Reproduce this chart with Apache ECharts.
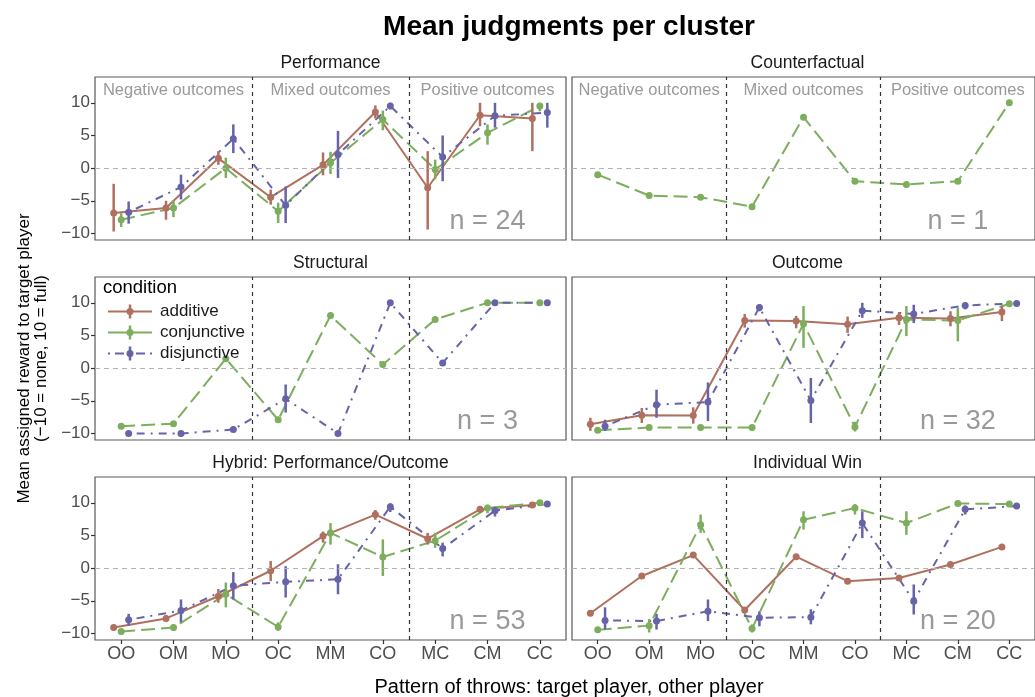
<!DOCTYPE html>
<html>
<head>
<meta charset="utf-8">
<script src="https://cdn.jsdelivr.net/npm/echarts@6/dist/echarts.min.js"></script>
<style>
  html, body { margin: 0; padding: 0; background: #ffffff; }
  #chart { width: 1035px; height: 697px; }
</style>
</head>
<body>
<div id="chart"></div>
<script>
// ---- categories, labels and per-panel values -------------------------------
const categories = ['OO', 'OM', 'MO', 'OC', 'MM', 'CO', 'MC', 'CM', 'CC'];
const conditions = ['additive', 'conjunctive', 'disjunctive'];
const panelTitles = ['Performance', 'Counterfactual', 'Structural', 'Outcome',
                     'Hybrid: Performance/Outcome', 'Individual Win'];
const panelN = [24, 1, 3, 32, 53, 20];
const outcomeGroups = ['Negative outcomes', 'Mixed outcomes', 'Positive outcomes'];
const yTicks = [-10, -5, 0, 5, 10];

// Performance
const perfAddMean  = [-6.85, -6.1, 1.5, -4.45, 0.5, 8.6, -3.0, 8.1, 7.6];
const perfAddLo    = [-9.7, -7.9, 0.5, -5.6, -1.1, 7.6, -9.4, 6.4, 2.6];
const perfAddHi    = [-2.4, -5.0, 2.6, -3.3, 2.4, 9.6, 2.6, 10.0, 10.0];
const perfConjMean = [-7.9, -6.1, 0.0, -6.6, 0.8, 7.45, -0.2, 5.4, 9.5];
const perfConjLo   = [-9.0, -7.5, -1.5, -8.4, -0.9, 5.8, -1.7, 3.6, 8.7];
const perfConjHi   = [-6.9, -5.0, 1.6, -5.3, 2.5, 8.8, 1.3, 6.7, 10.0];
const perfDisjMean = [-6.75, -2.9, 4.5, -5.7, 2.1, 9.5, 1.7, 8.0, 8.5];
const perfDisjLo   = [-8.5, -4.8, 2.3, -8.4, -1.5, 9.0, -2.0, 6.2, 6.2];
const perfDisjHi   = [-5.1, -1.0, 6.7, -2.8, 5.7, 10.0, 5.0, 10.0, 10.0];

// Counterfactual (single participant, conjunctive only)
const cfConjMean = [-1.0, -4.2, -4.45, -5.9, 7.8, -2.0, -2.5, -2.0, 10.0];

// Structural
const strConjMean = [-8.9, -8.5, 1.45, -7.9, 8.05, 0.55, 7.45, 10.0, 10.0];
const strDisjMean = [-10.0, -10.0, -9.4, -4.7, -10.0, 10.0, 0.8, 10.0, 10.0];
const strDisjLo   = [null, null, null, -6.8, null, null, null, null, null];
const strDisjHi   = [null, null, null, -2.5, null, null, null, null, null];

// Outcome
const outAddMean  = [-8.6, -7.2, -7.25, 7.3, 7.2, 6.7, 7.7, 7.6, 8.6];
const outAddLo    = [-9.6, -8.4, -8.5, 6.2, 6.1, 5.4, 6.6, 6.4, 7.2];
const outAddHi    = [-7.6, -6.1, -6.0, 8.3, 8.0, 7.9, 8.6, 8.7, 9.5];
const outConjMean = [-9.5, -9.1, -9.1, -9.1, 6.8, -9.0, 7.45, 7.3, 9.85];
const outConjLo   = [-9.9, -9.5, -9.5, -9.5, 3.1, -9.7, 4.9, 4.1, 9.6];
const outConjHi   = [-9.1, -8.7, -8.7, -8.7, 9.5, -8.2, 9.5, 9.2, 10.0];
const outDisjMean = [-8.9, -5.6, -5.2, 9.3, -4.95, 8.8, 8.3, 9.6, 9.9];
const outDisjLo   = [-9.6, -7.6, -8.1, 8.7, -8.4, 7.7, 6.9, 9.0, 9.7];
const outDisjHi   = [-7.9, -3.3, -2.2, 9.8, -1.5, 10.0, 9.7, 10.0, 10.0];

// Hybrid: Performance/Outcome
const hybAddMean  = [-9.1, -7.7, -4.3, -0.4, 4.9, 8.2, 4.5, 9.0, 9.65];
const hybAddLo    = [-9.5, -8.2, -5.3, -2.0, 3.9, 7.4, 3.6, 8.5, 9.4];
const hybAddHi    = [-8.7, -7.2, -3.2, 1.1, 5.6, 8.9, 5.4, 9.4, 9.9];
const hybConjMean = [-9.7, -9.1, -4.0, -9.0, 5.4, 1.7, 4.2, 9.2, 10.0];
const hybConjLo   = [-10.0, -9.6, -6.0, -9.6, 3.6, -1.2, 3.1, 8.4, 9.9];
const hybConjHi   = [-9.4, -8.6, -2.2, -8.3, 6.9, 4.4, 5.4, 9.7, 10.0];
const hybDisjMean = [-7.9, -6.5, -2.7, -2.1, -1.7, 9.4, 3.0, 8.8, 9.8];
const hybDisjLo   = [-8.8, -8.3, -4.8, -4.5, -4.0, 8.6, 1.8, 7.9, 9.6];
const hybDisjHi   = [-7.0, -4.8, -0.6, 0.3, 0.6, 9.9, 3.9, 9.4, 10.0];

// Individual Win
const indAddMean  = [-6.9, -1.2, 2.0, -6.4, 1.75, -2.0, -1.5, 0.55, 3.25];
const indConjMean = [-9.45, -8.8, 6.65, -9.25, 7.4, 9.2, 6.9, 9.9, 9.8];
const indConjLo   = [null, -9.85, 5.4, -9.85, 5.9, 8.2, 5.1, null, null];
const indConjHi   = [null, -7.8, 8.2, -8.6, 8.7, 9.8, 8.7, null, null];
const indDisjMean = [-8.0, -8.1, -6.6, -7.6, -7.5, 6.9, -5.05, 9.0, 9.5];
const indDisjLo   = [-9.4, -9.4, -8.1, -8.9, -8.6, 4.6, -7.1, 8.2, 9.2];
const indDisjHi   = [-6.0, -7.0, -4.8, -6.6, -6.3, 8.7, -2.5, 9.6, 9.8];

// ---- panel assembly (one entry per condition: [mean, lo, hi]) -------------
const panels = [
  [[perfAddMean, perfAddLo, perfAddHi], [perfConjMean, perfConjLo, perfConjHi], [perfDisjMean, perfDisjLo, perfDisjHi]],
  [null, [cfConjMean, null, null], null],
  [null, [strConjMean, null, null], [strDisjMean, strDisjLo, strDisjHi]],
  [[outAddMean, outAddLo, outAddHi], [outConjMean, outConjLo, outConjHi], [outDisjMean, outDisjLo, outDisjHi]],
  [[hybAddMean, hybAddLo, hybAddHi], [hybConjMean, hybConjLo, hybConjHi], [hybDisjMean, hybDisjLo, hybDisjHi]],
  [[indAddMean, null, null], [indConjMean, indConjLo, indConjHi], [indDisjMean, indDisjLo, indDisjHi]]
];

// ---- styling / layout ------------------------------------------------------
const FONT = '"Liberation Sans", Arial, Helvetica, sans-serif';
const COLORS = ['#b0705f', '#7cae5d', '#6763a8'];
const DASHES = ['solid', [14, 6], [2, 6, 8, 6]];
const DODGE = [-0.143, 0, 0.143];
const COL_LEFT = [95, 572];
const ROW_TOP = [77, 277, 477];
const PANEL_W = 471, PANEL_H = 163;
const Y_MIN = -11.0, Y_MAX = 13.95;
const TICK_GREY = '#4d4d4d';
const NOTE_GREY = '#808080';

const minusFmt = v => (v < 0 ? '\u2212' + Math.abs(v) : String(v));

const grids = [], xAxes = [], yAxes = [], series = [];

panels.forEach((sets, k) => {
  const col = k % 2, row = Math.floor(k / 2);
  grids.push({
    left: COL_LEFT[col], top: ROW_TOP[row], width: PANEL_W, height: PANEL_H,
    show: true, borderColor: '#595959', borderWidth: 1.2, backgroundColor: '#ffffff'
  });
  xAxes.push({
    type: 'value', gridIndex: k, min: -0.5, max: 8.5, position: 'bottom',
    axisLine: { show: false, onZero: false }, splitLine: { show: false },
    axisTick: { show: row === 2, customValues: categories.map((c, i) => i), length: 4,
                lineStyle: { color: '#333333', width: 1.2 } },
    axisLabel: { show: row === 2, customValues: categories.map((c, i) => i),
                 formatter: v => categories[Math.round(v)], color: TICK_GREY,
                 fontSize: 18, fontFamily: FONT, margin: 5 }
  });
  yAxes.push({
    type: 'value', gridIndex: k, min: Y_MIN, max: Y_MAX, position: 'left',
    axisLine: { show: false, onZero: false }, splitLine: { show: false },
    axisTick: { show: col === 0, customValues: yTicks, length: 4,
                lineStyle: { color: '#333333', width: 1.2 } },
    axisLabel: { show: col === 0, customValues: yTicks, formatter: minusFmt,
                 color: TICK_GREY, fontSize: 17, fontFamily: FONT, margin: 5 }
  });

  // reference lines: zero line and the outcome-group separators
  series.push({
    type: 'line', xAxisIndex: k, yAxisIndex: k, z: 1, silent: true,
    data: [[-0.5, 0]], showSymbol: false, lineStyle: { opacity: 0 },
    markLine: {
      silent: true, symbol: 'none', label: { show: false }, animation: false,
      data: [
        { yAxis: 0, lineStyle: { color: '#b3b3b3', type: [5, 4], width: 1 } },
        { xAxis: 2.5, lineStyle: { color: '#333333', type: [4, 4], width: 1.2 } },
        { xAxis: 5.5, lineStyle: { color: '#333333', type: [4, 4], width: 1.2 } }
      ]
    }
  });

  sets.forEach((set, c) => {
    if (!set) return;
    const [mean, lo, hi] = set;
    series.push({
      type: 'line', name: conditions[c], xAxisIndex: k, yAxisIndex: k, z: 3,
      data: mean.map((v, i) => [i + DODGE[c], v]),
      symbol: 'circle', symbolSize: 7, showSymbol: true,
      itemStyle: { color: COLORS[c] },
      lineStyle: { color: COLORS[c], width: 2, type: DASHES[c], cap: 'butt' },
      animation: false
    });
    if (lo && hi) {
      const bars = [];
      mean.forEach((v, i) => {
        if (lo[i] != null && hi[i] != null) bars.push([i + DODGE[c], lo[i], hi[i]]);
      });
      series.push({
        type: 'custom', xAxisIndex: k, yAxisIndex: k, z: 4, silent: true,
        data: bars, encode: { x: 0, y: [1, 2] }, animation: false,
        renderItem: (params, api) => {
          const p1 = api.coord([api.value(0), api.value(1)]);
          const p2 = api.coord([api.value(0), api.value(2)]);
          return { type: 'line',
                   shape: { x1: p1[0], y1: p1[1], x2: p2[0], y2: p2[1] },
                   style: { stroke: COLORS[c], lineWidth: 2.5 } };
        }
      });
    }
  });

  // participant count per cluster
  series.push({
    type: 'scatter', xAxisIndex: k, yAxisIndex: k, z: 5, silent: true, animation: false,
    symbolSize: 1, itemStyle: { color: 'rgba(0,0,0,0)' },
    data: [{ value: [7, -8.2], name: 'n = ' + panelN[k] }],
    label: { show: true, position: 'inside', formatter: '{b}', color: NOTE_GREY,
             fontSize: 27, fontFamily: FONT }
  });

  // outcome group headings in the top row
  if (row === 0) {
    series.push({
      type: 'scatter', xAxisIndex: k, yAxisIndex: k, z: 5, silent: true, animation: false,
      symbolSize: 1, itemStyle: { color: 'rgba(0,0,0,0)' },
      data: outcomeGroups.map((g, i) => ({ value: [1 + 3 * i, 11.85], name: g })),
      label: { show: true, position: 'inside', formatter: '{b}', color: NOTE_GREY,
               fontSize: 16.5, fontFamily: FONT }
    });
  }
});

// ---- static text and the legend -------------------------------------------
const graphics = [];
graphics.push({
  type: 'text', x: 569, y: 27, z: 10,
  style: { text: 'Mean judgments per cluster', font: 'bold 28px ' + FONT, fill: '#000000',
           textAlign: 'center', textVerticalAlign: 'middle' }
});
panelTitles.forEach((t, k) => {
  const col = k % 2, row = Math.floor(k / 2);
  graphics.push({
    type: 'text', x: COL_LEFT[col] + PANEL_W / 2, y: ROW_TOP[row] - 14, z: 10,
    style: { text: t, font: '17.5px ' + FONT, fill: '#1a1a1a',
             textAlign: 'center', textVerticalAlign: 'middle' }
  });
});
graphics.push({
  type: 'text', x: 569, y: 687, z: 10,
  style: { text: 'Pattern of throws: target player, other player', font: '20px ' + FONT,
           fill: '#000000', textAlign: 'center', textVerticalAlign: 'middle' }
});
graphics.push({
  type: 'text', x: 24, y: 358.5, rotation: Math.PI / 2, z: 10,
  style: { text: 'Mean assigned reward to target player', font: '17px ' + FONT,
           fill: '#000000', textAlign: 'center', textVerticalAlign: 'middle' }
});
graphics.push({
  type: 'text', x: 41, y: 358.5, rotation: Math.PI / 2, z: 10,
  style: { text: '(\u221210 = none, 10 = full)', font: '17px ' + FONT,
           fill: '#000000', textAlign: 'center', textVerticalAlign: 'middle' }
});

// legend placed inside the Structural panel
graphics.push({
  type: 'text', x: 103, y: 288, z: 20,
  style: { text: 'condition', font: '18.5px ' + FONT, fill: '#000000',
           textAlign: 'left', textVerticalAlign: 'middle' }
});
const legendDash = ['solid', 'solid', [2, 5, 9, 5]];
conditions.forEach((name, c) => {
  const y = 311.5 + c * 21;
  graphics.push({
    type: 'line', z: 20, shape: { x1: 108, y1: y, x2: 152, y2: y },
    style: { stroke: COLORS[c], lineWidth: 2, lineDash: legendDash[c] === 'solid' ? null : legendDash[c] }
  });
  graphics.push({
    type: 'line', z: 20, shape: { x1: 130, y1: y - 7, x2: 130, y2: y + 7 },
    style: { stroke: COLORS[c], lineWidth: 2.5 }
  });
  graphics.push({
    type: 'circle', z: 21, shape: { cx: 130, cy: y, r: 3.5 },
    style: { fill: COLORS[c] }
  });
  graphics.push({
    type: 'text', x: 160, y: y, z: 20,
    style: { text: name, font: '17px ' + FONT, fill: '#1a1a1a',
             textAlign: 'left', textVerticalAlign: 'middle' }
  });
});

const chart = echarts.init(document.getElementById('chart'), null, { renderer: 'canvas' });
chart.setOption({
  backgroundColor: '#ffffff',
  animation: false,
  grid: grids,
  xAxis: xAxes,
  yAxis: yAxes,
  series: series,
  graphic: graphics
});
</script>
</body>
</html>
